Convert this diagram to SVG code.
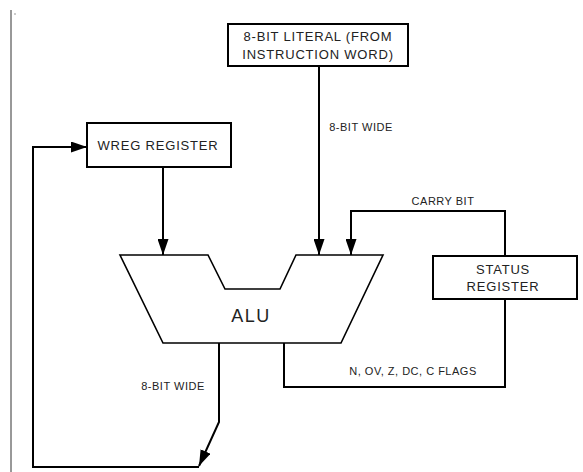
<svg xmlns="http://www.w3.org/2000/svg" width="583" height="472" viewBox="0 0 583 472">
<style>
.box{fill:#fff;stroke:#000;stroke-width:2}
.t{font-family:"Liberation Sans",Arial,sans-serif;fill:#222;text-anchor:middle}
.nt{font-size:13px;letter-spacing:0.8px}
.lb{font-size:11px;letter-spacing:0.5px}
.w{fill:none;stroke:#000;stroke-width:2}
</style>
<defs>
<marker id="ah" viewBox="0 0 16 11" refX="16" refY="5.5" markerWidth="16" markerHeight="11" markerUnits="userSpaceOnUse" orient="auto">
<path d="M0,0 L16,5.5 L0,11 Z" fill="#000"/>
</marker>
</defs>
<rect width="583" height="472" fill="#fff"/>
<line x1="11" y1="10" x2="11" y2="472" stroke="#333" stroke-width="1"/>
<circle cx="15" cy="14" r="0.8" fill="#888"/>

<g id="connectors">
<path class="w" d="M319,66 L319,255" marker-end="url(#ah)"/>
<path class="w" d="M163,167 L163,255" marker-end="url(#ah)"/>
<path class="w" d="M505,256 L505,211 L351,211 L351,255" marker-end="url(#ah)"/>
<path class="w" d="M284,343 L284,387 L505,387 L505,299"/>
<path class="w" d="M219,343 L219,422 L199,466" marker-end="url(#ah)"/>
<path class="w" d="M199,467 L33,467 L33,147 L87,147" marker-end="url(#ah)"/>
<text class="t lb" x="361" y="131">8-BIT WIDE</text>
<text class="t lb" x="443" y="205">CARRY BIT</text>
<text class="t lb" x="413" y="375">N, OV, Z, DC, C FLAGS</text>
<text class="t lb" x="173" y="390">8-BIT WIDE</text>
</g>

<g id="literal">
<rect class="box" x="228" y="24" width="180" height="42"/>
<text class="t nt" x="318" y="41">8-BIT LITERAL (FROM</text>
<text class="t nt" x="318" y="59">INSTRUCTION WORD)</text>
</g>

<g id="wreg">
<rect class="box" x="87" y="123" width="144" height="44"/>
<text class="t nt" x="158" y="150">WREG REGISTER</text>
</g>

<g id="status">
<rect class="box" x="433" y="256" width="144" height="43"/>
<text class="t nt" x="503" y="274">STATUS</text>
<text class="t nt" x="503" y="291">REGISTER</text>
</g>

<g id="alu">
<path d="M120,255 L208,255 L225,289 L280,289 L296,255 L383,255 L341,343 L163,343 Z" fill="#fff" stroke="#000" stroke-width="1.6"/>
<text class="t" x="251" y="322" font-size="18" letter-spacing="1.5">ALU</text>
</g>
</svg>
